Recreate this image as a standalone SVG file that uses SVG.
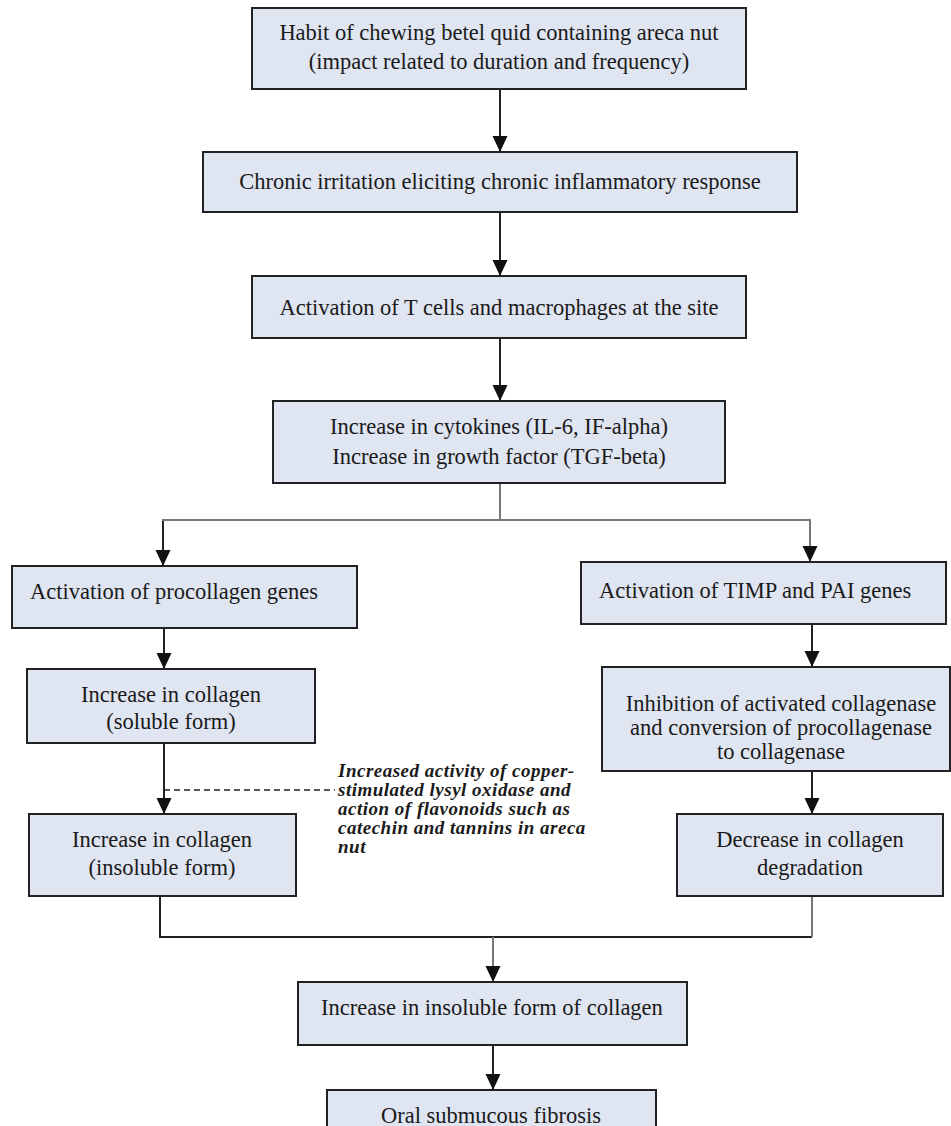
<svg xmlns="http://www.w3.org/2000/svg" width="951" height="1126" viewBox="0 0 951 1126">
<defs>
<style>
.box{fill:#dfe5f1;stroke:#222;stroke-width:2}
.t{font-family:"Liberation Serif","Times New Roman",serif;font-size:22.5px;fill:#1a1a1a;text-anchor:middle}
.tl{font-family:"Liberation Serif","Times New Roman",serif;font-size:22.5px;fill:#1a1a1a}
.it{font-family:"Liberation Serif","Times New Roman",serif;font-size:19px;letter-spacing:0.5px;font-style:italic;font-weight:bold;fill:#1a1a1a}
.ln{fill:none;stroke:#222;stroke-width:2}
.gl{fill:none;stroke:#777;stroke-width:2}
.dash{fill:none;stroke:#222;stroke-width:1.5;stroke-dasharray:6 4}
</style>
<marker id="ah" markerUnits="userSpaceOnUse" markerWidth="16" markerHeight="16" refX="16" refY="8" orient="auto">
<path d="M0,0.5 L16,8 L0,15.5 z" fill="#111"/>
</marker>
</defs>
<rect width="951" height="1126" fill="#fff"/>
<g id="connectors">
<line class="ln" x1="500" y1="89" x2="500" y2="152" marker-end="url(#ah)"/>
<line class="ln" x1="500" y1="212" x2="500" y2="276" marker-end="url(#ah)"/>
<line class="ln" x1="500" y1="338" x2="500" y2="401" marker-end="url(#ah)"/>
<polyline class="gl" points="500,483 500,520"/>
<polyline class="gl" points="163,566 163,520 810,520 810,562" marker-end="url(#ah)"/>
<line class="ln" x1="163" y1="521" x2="163" y2="566" marker-end="url(#ah)"/>
<line class="ln" x1="164" y1="628" x2="164" y2="669" marker-end="url(#ah)"/>
<line class="ln" x1="164" y1="743" x2="164" y2="814" marker-end="url(#ah)"/>
<line class="dash" x1="164" y1="790" x2="335" y2="790"/>
<line class="ln" x1="812" y1="624" x2="812" y2="667" marker-end="url(#ah)"/>
<line class="ln" x1="812" y1="771" x2="812" y2="814" marker-end="url(#ah)"/>
<polyline class="ln" points="160,896 160,937 812,937"/>
<line class="gl" x1="812" y1="896" x2="812" y2="937"/>
<line class="gl" x1="493" y1="937" x2="493" y2="982" marker-end="url(#ah)"/>
<line class="ln" x1="493" y1="1045" x2="493" y2="1090" marker-end="url(#ah)"/>
</g>
<g id="n1"><rect class="box" x="252" y="8" width="494" height="81"/>
<text class="t" x="499" y="40">Habit of chewing betel quid containing areca nut</text>
<text class="t" x="499" y="69">(impact related to duration and frequency)</text></g>
<g id="n2"><rect class="box" x="203" y="152" width="594" height="60"/>
<text class="t" x="500" y="189">Chronic irritation eliciting chronic inflammatory response</text></g>
<g id="n3"><rect class="box" x="252" y="276" width="494" height="62"/>
<text class="t" x="499" y="315">Activation of T cells and macrophages at the site</text></g>
<g id="n4"><rect class="box" x="273" y="401" width="452" height="82"/>
<text class="t" x="499" y="434">Increase in cytokines (IL-6, IF-alpha)</text>
<text class="t" x="499" y="464">Increase in growth factor (TGF-beta)</text></g>
<g id="n5"><rect class="box" x="12" y="566" width="345" height="62"/>
<text class="tl" x="30" y="599">Activation of procollagen genes</text></g>
<g id="n6"><rect class="box" x="581" y="562" width="365" height="62"/>
<text class="tl" x="599" y="598">Activation of TIMP and PAI genes</text></g>
<g id="n7"><rect class="box" x="27" y="669" width="288" height="74"/>
<text class="t" x="171" y="702">Increase in collagen</text>
<text class="t" x="171" y="729">(soluble form)</text></g>
<g id="n8"><rect class="box" x="29" y="814" width="267" height="82"/>
<text class="t" x="162" y="847">Increase in collagen</text>
<text class="t" x="162" y="875">(insoluble form)</text></g>
<g id="n9"><rect class="box" x="602" y="667" width="348" height="104"/>
<text class="t" x="781" y="711">Inhibition of activated collagenase</text>
<text class="t" x="781" y="735">and conversion of procollagenase</text>
<text class="t" x="781" y="759">to collagenase</text></g>
<g id="n10"><rect class="box" x="677" y="814" width="266" height="82"/>
<text class="t" x="810" y="847">Decrease in collagen</text>
<text class="t" x="810" y="875">degradation</text></g>
<g id="n11"><rect class="box" x="298" y="982" width="389" height="63"/>
<text class="t" x="492" y="1015">Increase in insoluble form of collagen</text></g>
<g id="n12"><rect class="box" x="327" y="1090" width="329" height="45"/>
<text class="t" x="491" y="1123">Oral submucous fibrosis</text></g>
<g id="annotation">
<text class="it" x="338" y="777">Increased activity of copper-</text>
<text class="it" x="338" y="796">stimulated lysyl oxidase and</text>
<text class="it" x="338" y="815">action of flavonoids such as</text>
<text class="it" x="338" y="834">catechin and tannins in areca</text>
<text class="it" x="338" y="853">nut</text>
</g>
</svg>
